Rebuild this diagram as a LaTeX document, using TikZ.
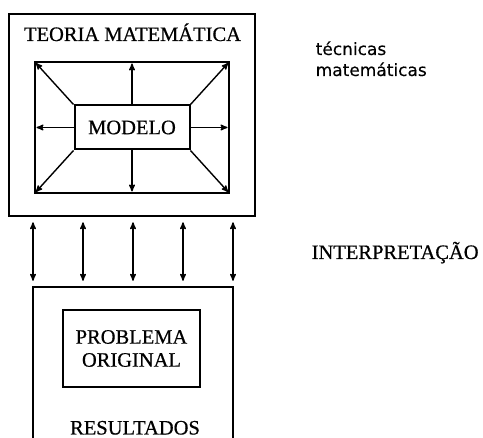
\documentclass[tikz,border=0pt]{standalone}
\usepackage{fontspec}
\setmainfont{Liberation Serif}[UprightFeatures={FakeBold=0.6}]
\newfontfamily\tecfont{DejaVu Sans}[FakeBold=0.3]
\usepackage{tikz}
\usetikzlibrary{arrows,calc,positioning}

\begin{document}
\begin{tikzpicture}[x=1pt,y=-1pt,
        caixa/.style={draw, line width=2pt, inner sep=0pt},
        rotulo/.style={font=\fontsize{20.5}{23}\selectfont, inner sep=0pt},
        ->,>=stealth',line width=1.4pt]
        \clip (0,0) rectangle (483,438);
            % bloco de cima
            \node[caixa, line width=2.6pt, minimum width=246pt, minimum height=202pt] (teoria) at (132,115) {};
            \node[rotulo, anchor=base] (titulo) at (132.5,41) {TEORIA MATEMÁTICA};
            \node[caixa, minimum width=194pt, minimum height=131pt] (tecn) at (132,127.5) {};
            \node[caixa, rotulo, minimum width=115pt, minimum height=44pt] (modelo) at (132,127.5) {MODELO};
            \foreach \a in {north west, north, north east, east, south east, south, south west, west}
              \draw[shorten >=2.5pt] (modelo.\a) -- (tecn.\a);
            % bloco de baixo
            \node[caixa, line width=2.4pt, minimum width=200pt, minimum height=180pt] (baixo) at (133,377) {};
            \node[caixa, rotulo, align=center, minimum width=137pt, minimum height=77pt] (problema) at (131.5,348.5) {PROBLEMA\\ORIGINAL};
            \node[rotulo, anchor=base] (resultados) at (135,434.5) {RESULTADOS};
            % setas entre os blocos
            \foreach \x [count=\i] in {33,83,133,183,233}
              \coordinate (c\i) at (\x,250);
            \foreach \i in {1,...,5}
              \draw[<->, shorten <=5pt, shorten >=5pt] (teoria.south -| c\i) -- (baixo.north -| c\i);
            % textos da direita
            \node[inner sep=0pt, anchor=base west, align=left, font=\tecfont\fontsize{17}{21}\selectfont] (tecnicas) at (315,76) {técnicas\\matemáticas};
            \node[rotulo, anchor=base west] (interp) at (311,259) {INTERPRETAÇÃO};
\end{tikzpicture}
\end{document}
